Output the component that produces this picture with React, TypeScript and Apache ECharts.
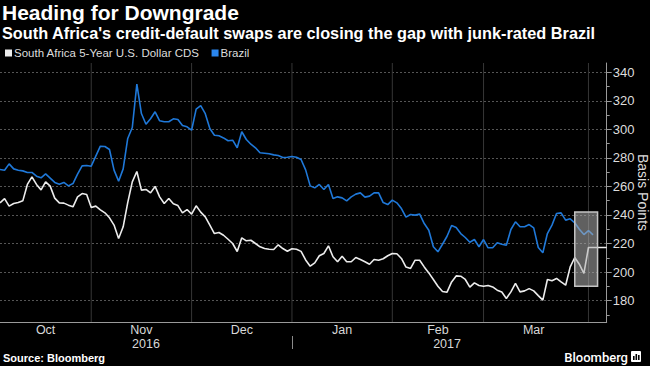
import React, { useEffect, useRef } from "react";
import * as echarts from "echarts";

const TITLE = "Heading for Downgrade";
const SUBTITLE =
  "South Africa's credit-default swaps are closing the gap with junk-rated Brazil";
const SOUTH_AFRICA = "South Africa 5-Year U.S. Dollar CDS";
const BRAZIL = "Brazil";
const SOURCE = "Source: Bloomberg";
const BRAND = "Bloomberg";
const Y_NAME = "Basis Points";

// business-day category range
const FIRST_DAY = "2016-10-04";
const LAST_DAY = "2017-04-07";

// South Africa 5Y USD CDS, basis points, one value per business day
const southAfrica = [
  248.5, 251.5, 246.2, 248.0, 248.7, 249.9, 261.4, 266.7, 261.4, 257.6,
  263.2, 260.2, 251.8, 248.5, 248.3, 246.9, 245.7, 252.7, 255.0, 254.3,
  245.2, 246.2, 243.6, 241.5, 238.0, 232.9, 223.5, 231.7, 248.7, 263.2,
  270.5, 257.4, 257.9, 255.5, 260.0, 252.7, 248.0, 251.5, 247.8, 246.6,
  241.5, 243.8, 240.6, 246.4, 242.0, 238.7, 232.9, 227.0, 227.7, 225.8,
  223.0, 220.0, 214.4, 224.0, 221.9, 222.3, 220.0, 217.7, 216.5, 216.0,
  215.8, 219.1, 216.5, 214.6, 216.3, 216.0, 214.5, 208.5, 204.1, 206.4,
  211.4, 213.0, 218.4, 210.7, 207.2, 211.1, 207.2, 207.2, 210.2, 208.8,
  207.2, 205.5, 208.8, 208.3, 209.3, 211.4, 213.0, 212.8, 209.5, 203.5,
  202.5, 208.3, 208.3, 203.6, 199.4, 194.8, 190.1, 186.4, 185.9, 193.1,
  197.3, 197.1, 194.8, 189.4, 192.4, 190.6, 190.1, 190.6, 189.6, 187.3,
  186.0, 181.5, 186.1, 192.0, 186.1, 186.8, 188.4, 186.8, 183.5, 180.3,
  194.8, 193.9, 195.5, 193.1, 190.8, 203.6, 210.2, 205.5, 199.0, 217.2,
  217.2, 217.2, 217.2, 217.2,
];

// Brazil 5Y USD CDS, basis points
const brazil = [
  271.9, 271.4, 275.8, 272.3, 271.4, 270.9, 269.8, 269.8, 267.2, 266.0,
  268.8, 265.8, 262.8, 261.6, 262.8, 260.4, 262.0, 268.6, 274.4, 274.7,
  274.2, 281.2, 288.2, 288.0, 285.9, 271.4, 263.7, 272.3, 293.6, 301.3,
  331.7, 311.1, 303.6, 307.4, 312.3, 306.0, 305.3, 305.3, 307.4, 306.9,
  302.7, 301.8, 299.4, 314.2, 316.7, 311.0, 300.6, 295.9, 295.5, 294.0,
  292.0, 292.4, 287.1, 298.3, 292.9, 289.6, 287.1, 283.6, 283.3, 282.9,
  282.1, 281.7, 280.3, 280.5, 281.0, 280.5, 278.9, 271.6, 260.4, 259.0,
  261.4, 257.9, 261.4, 251.5, 252.7, 252.0, 249.9, 252.7, 254.6, 255.5,
  252.5, 253.2, 255.5, 255.5, 248.7, 247.3, 250.4, 248.5, 244.5, 238.5,
  240.3, 239.9, 240.6, 234.0, 229.3, 217.7, 214.2, 219.5, 225.1, 232.6,
  231.2, 227.0, 224.2, 220.9, 222.8, 217.7, 222.8, 217.0, 217.0, 220.5,
  219.5, 218.8, 229.8, 235.2, 231.7, 231.7, 233.3, 231.0, 217.2, 213.5,
  227.0, 232.9, 241.0, 241.5, 236.4, 237.3, 234.5, 230.0, 226.3, 229.1,
  226.1,
];

const monthLabelDays = ["2016-10-18", "2016-11-16", "2016-12-16", "2017-01-17", "2017-02-15", "2017-03-16"];
const monthLabelTexts = ["Oct", "Nov", "Dec", "Jan", "Feb", "Mar"];
const monthStartDays = ["2016-11-01", "2016-12-01", "2017-01-02", "2017-02-01", "2017-03-01", "2017-04-03"];
const yearLabelDays = ["2016-11-17", "2017-02-17"];
const yearLabelTexts = ["2016", "2017"];
const YEAR_BREAK = "2017-01-02";

const yTicks = [180, 200, 220, 240, 260, 280, 300, 320, 340];
const yMinorTicks = [170, 190, 210, 230, 250, 270, 290, 310, 330];
const Y_MIN = 165;
const Y_MAX = 346.5;

const boxDays = ["2017-03-29", "2017-04-05"];
const boxValues = [190, 242];

const WHITE = "#ececec";
const BLUE = "#1f78d8";
const GRID_COLOR = "#555555";
const NARROW = "'Liberation Sans Narrow', 'Liberation Sans', sans-serif";
const SANS = "'Liberation Sans', Arial, sans-serif";

function weekdays(start: string, end: string): string[] {
  const out: string[] = [];
  const d = new Date(start + "T00:00:00Z");
  const e = new Date(end + "T00:00:00Z");
  while (d <= e) {
    const wd = d.getUTCDay();
    if (wd !== 0 && wd !== 6) out.push(d.toISOString().slice(0, 10));
    d.setUTCDate(d.getUTCDate() + 1);
  }
  return out;
}

export default function App() {
  const ref = useRef<HTMLDivElement>(null);

  useEffect(() => {
    if (!ref.current) return;
    const chart = echarts.init(ref.current, undefined, { renderer: "svg" });
    const days = weekdays(FIRST_DAY, LAST_DAY);
    const monthMap: Record<string, string> = {};
    monthLabelDays.forEach((d, i) => (monthMap[d] = monthLabelTexts[i]));
    const yearMap: Record<string, string> = {};
    yearLabelDays.forEach((d, i) => (yearMap[d] = yearLabelTexts[i]));
    // thin full-height bars at the first business day of each month act as vertical grid lines
    const monthGridBars = days.map((d) => (monthStartDays.indexOf(d) >= 0 ? Y_MAX : null));

    chart.setOption({
      backgroundColor: "#000",
      animation: false,
      title: [
        {
          text: TITLE,
          left: 2,
          top: 2,
          padding: 0,
          textStyle: { color: "#fff", fontSize: 21, fontWeight: "bold", fontFamily: SANS },
        },
        {
          text: SUBTITLE,
          left: 2,
          top: 25,
          padding: 0,
          textStyle: { color: "#fff", fontSize: 16.3, fontWeight: "bold", fontFamily: SANS },
        },
      ],
      legend: {
        data: [SOUTH_AFRICA, BRAZIL],
        left: 5,
        top: 47,
        padding: 0,
        icon: "rect",
        itemWidth: 7,
        itemHeight: 7,
        itemGap: 12,
        selectedMode: false,
        textStyle: { color: "#dddddd", fontSize: 11.5, fontFamily: NARROW, padding: [0, 0, 0, -3] },
      },
      grid: {
        left: 0,
        right: 43.3,
        top: 63,
        bottom: 44,
        outerBoundsMode: "none",
        containLabel: false,
      },
      xAxis: [
        {
          type: "category",
          data: days,
          boundaryGap: false,
          axisLine: { show: true, lineStyle: { color: "#9a9a9a", width: 1 } },
          axisTick: { show: false },
          axisLabel: {
            interval: (_i: number, v: string) => v in monthMap,
            formatter: (v: string) => monthMap[v] || "",
            color: "#d8d8d8",
            fontSize: 12.5,
            fontFamily: NARROW,
            margin: 1,
          },
          splitLine: { show: false },
        },
        {
          type: "category",
          data: days,
          boundaryGap: false,
          position: "bottom",
          offset: 14,
          axisLine: { show: false },
          axisTick: {
            show: true,
            interval: (_i: number, v: string) => v === YEAR_BREAK,
            length: 13,
            lineStyle: { color: "#8a8a8a" },
          },
          axisLabel: {
            interval: (_i: number, v: string) => v in yearMap,
            formatter: (v: string) => yearMap[v] || "",
            color: "#d8d8d8",
            fontSize: 12.5,
            fontFamily: NARROW,
            margin: 1,
          },
          splitLine: { show: false },
        },
      ],
      yAxis: [
        {
          type: "value",
          position: "right",
          min: Y_MIN,
          max: Y_MAX,
          name: Y_NAME,
          nameLocation: "middle",
          nameRotate: -90,
          nameGap: 29,
          nameMoveOverlap: false,
          nameTextStyle: { color: "#dddddd", fontSize: 14, fontFamily: SANS },
          axisLine: { show: true, lineStyle: { color: "#9a9a9a" } },
          axisTick: { show: true, customValues: yTicks, length: 5, lineStyle: { color: "#9a9a9a" } },
          axisLabel: { customValues: yTicks, color: "#dddddd", fontSize: 13, fontFamily: NARROW, margin: 6 },
          splitLine: { show: true, lineStyle: { color: GRID_COLOR, type: [2, 2], width: 1 } },
        },
        {
          type: "value",
          position: "right",
          min: Y_MIN,
          max: Y_MAX,
          axisLine: { show: false },
          axisTick: { show: true, customValues: yMinorTicks, length: 3, lineStyle: { color: "#9a9a9a" } },
          axisLabel: { show: false },
          splitLine: { show: false },
        },
      ],
      series: [
        {
          name: "monthGrid",
          type: "bar",
          data: monthGridBars,
          barWidth: 1,
          silent: true,
          z: 1,
          itemStyle: { color: "#363636" },
        },
        {
          name: SOUTH_AFRICA,
          type: "line",
          data: southAfrica,
          symbol: "none",
          lineStyle: { color: WHITE, width: 1.6 },
          itemStyle: { color: WHITE },
          z: 3,
        },
        {
          name: BRAZIL,
          type: "line",
          data: brazil,
          symbol: "none",
          lineStyle: { color: BLUE, width: 1.6 },
          itemStyle: { color: "#2a86ee" },
          z: 2,
        },
        {
          name: "box",
          type: "line",
          data: [],
          z: 6,
          markArea: {
            silent: true,
            z: 6,
            itemStyle: { color: "rgba(175,175,175,0.55)", borderColor: "#c4c4c4", borderWidth: 1.5 },
            data: [
              [
                { xAxis: boxDays[0], yAxis: boxValues[0] },
                { xAxis: boxDays[1], yAxis: boxValues[1] },
              ],
            ],
          },
        },
      ],
      graphic: [
        {
          type: "text",
          left: 3,
          top: 352,
          style: { text: SOURCE, fill: "#fff", font: `bold 11px ${SANS}` },
        },
        {
          type: "text",
          x: 628,
          y: 357,
          style: { text: BRAND, fill: "#fff", font: `500 13px Roboto, ${SANS}`, align: "right", verticalAlign: "middle" },
        },
        { type: "rect", shape: { x: 631, y: 351, width: 10, height: 11, r: 1 }, style: { fill: "#fff" } },
        { type: "rect", shape: { x: 633, y: 356, width: 1.6, height: 4 }, style: { fill: "#000" } },
        { type: "rect", shape: { x: 635.5, y: 354, width: 1.6, height: 6 }, style: { fill: "#000" } },
        { type: "rect", shape: { x: 638, y: 355, width: 1.6, height: 5 }, style: { fill: "#000" } },
      ],
    });
    return () => chart.dispose();
  }, []);

  return (
    <div
      ref={ref}
      style={{ position: "absolute", left: 0, top: 0, width: 650, height: 366 }}
    />
  );
}
